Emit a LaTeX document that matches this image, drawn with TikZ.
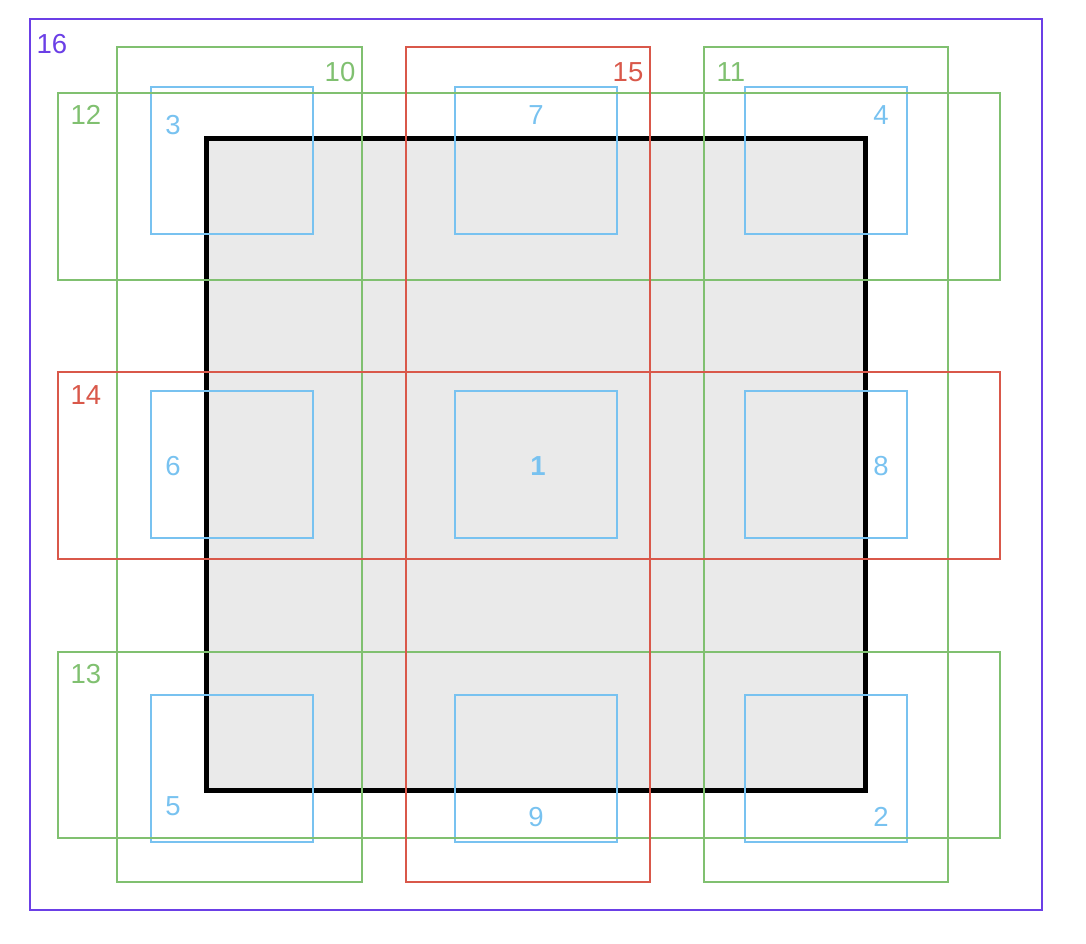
\documentclass[tikz,border=0pt]{standalone}
\usepackage{fontspec}
\setmainfont{Liberation Sans}
\definecolor{cpurple}{HTML}{6B3FE6}
\definecolor{cgreen}{HTML}{80C070}
\definecolor{cred}{HTML}{D9584A}
\definecolor{cblue}{HTML}{78C2F0}
\definecolor{cgray}{HTML}{EAEAEA}
\begin{document}
\begin{tikzpicture}[x=1pt,y=-1pt,
  bluebox/.style={draw=cblue,line width=2pt},
  greenbox/.style={draw=cgreen,line width=2pt},
  redbox/.style={draw=cred,line width=2pt},
  purplebox/.style={draw=cpurple,line width=2.5pt},
  lbl/.style={font=\fontsize{27.5}{30}\selectfont,inner sep=0pt},
  bluelbl/.style={lbl,text=cblue},
  greenlbl/.style={lbl,text=cgreen},
  redlbl/.style={lbl,text=cred},
  purplelbl/.style={lbl,text=cpurple}]
\useasboundingbox (0,0) rectangle (1086,944);
% central box
\draw[fill=cgray,draw=black,line width=5pt] (206,139) rectangle (865,790);
% blue boxes
\draw[bluebox] (151,87) rectangle (313,234);
\draw[bluebox] (455,87) rectangle (617,234);
\draw[bluebox] (745,87) rectangle (907,234);
\draw[bluebox] (151,391) rectangle (313,538);
\draw[bluebox] (455,391) rectangle (617,538);
\draw[bluebox] (745,391) rectangle (907,538);
\draw[bluebox] (151,695) rectangle (313,842);
\draw[bluebox] (455,695) rectangle (617,842);
\draw[bluebox] (745,695) rectangle (907,842);
% green boxes
\draw[greenbox] (117,47) rectangle (362,882);
\draw[greenbox] (704,47) rectangle (948,882);
\draw[greenbox] (58,93) rectangle (1000,280);
\draw[greenbox] (58,652) rectangle (1000,838);
% red boxes
\draw[redbox] (58,372) rectangle (1000,559);
\draw[redbox] (406,47) rectangle (650,882);
% purple box
\draw[purplebox] (30,19) rectangle (1042,910);
% labels
\node[purplelbl] (l16) at (52,44) {16};
\node[greenlbl] (l10) at (340,72) {10};
\node[redlbl] (l15) at (628,72) {15};
\node[greenlbl] (l11) at (731,72) {11};
\node[greenlbl] (l12) at (86,115) {12};
\node[redlbl] (l14) at (86,395) {14};
\node[greenlbl] (l13) at (86,674) {13};
\node[bluelbl] (l3) at (173,125) {3};
\node[bluelbl] (l7) at (536,115) {7};
\node[bluelbl] (l4) at (881,115) {4};
\node[bluelbl] (l6) at (173,466) {6};
\node[bluelbl] (l1) at (538,466) {\textbf{1}};
\node[bluelbl] (l8) at (881,466) {8};
\node[bluelbl] (l5) at (173,806) {5};
\node[bluelbl] (l9) at (536,817) {9};
\node[bluelbl] (l2) at (881,817) {2};
\end{tikzpicture}
\end{document}
